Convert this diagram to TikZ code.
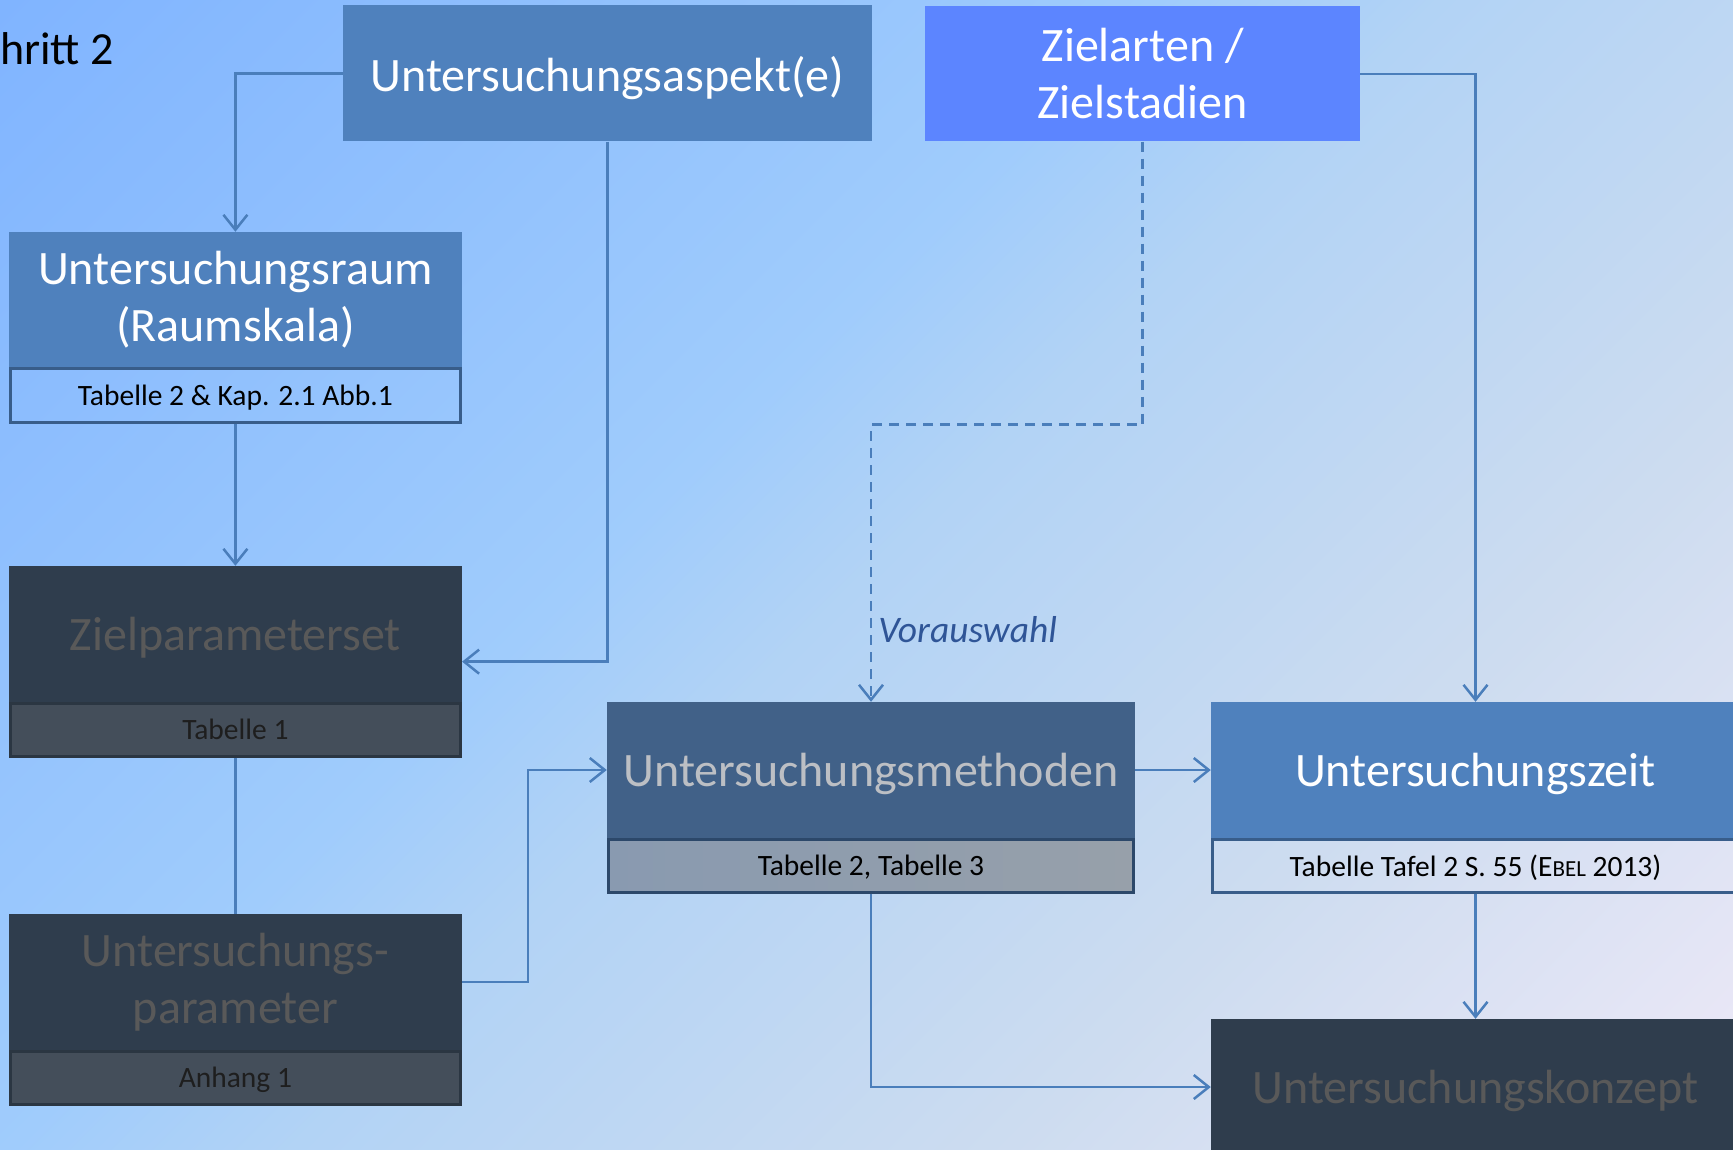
\documentclass[tikz,border=0pt]{standalone}
\usepackage{fontspec}
\setmainfont{Carlito}
\usetikzlibrary{arrows.meta,calc,shadings}
\definecolor{boxblue}{HTML}{4F81BD}
\definecolor{zielblue}{HTML}{5C85FF}
\definecolor{methblue}{HTML}{416188}
\definecolor{darkbox}{HTML}{2F3D4D}
\definecolor{darksub}{HTML}{444E5A}
\definecolor{darktext}{HTML}{595959}
\definecolor{methtext}{HTML}{BCBFC4}
\definecolor{linec}{HTML}{4A7EBB}
\definecolor{subborder}{HTML}{385D8A}
\definecolor{darkborder}{HTML}{2B3642}
\definecolor{vorc}{HTML}{2F5597}
\definecolor{subtext}{RGB}{30,30,30}
\definecolor{methsubl}{RGB}{137,154,176}
\definecolor{methsubr}{RGB}{151,160,170}
\definecolor{methborder}{RGB}{44,72,106}
\pgfdeclarehorizontalshading{bgshade}{100bp}{%
  rgb(0bp)=(0.502,0.706,1);
  rgb(14.6bp)=(0.502,0.706,1);
  rgb(43bp)=(0.627,0.800,0.988);
  rgb(50bp)=(0.698,0.827,0.961);
  rgb(67.7bp)=(0.804,0.863,0.941);
  rgb(85.4bp)=(0.933,0.914,0.969);
  rgb(100bp)=(0.933,0.914,0.969)}
\newcommand\bigf{\fontsize{48}{57}\selectfont}
\newcommand\smallf{\fontsize{29.5}{35}\selectfont}
\newcommand\titf{\fontsize{46}{54}\selectfont}
\begin{document}
\begin{tikzpicture}[x=1pt,y=-1pt,
  mainbox/.style={rectangle, inner sep=0pt, minimum height=136pt, font=\bigf, align=center},
  oneline/.style={text depth=0pt},
  subbox/.style={rectangle, inner sep=0pt, minimum height=53pt, line width=3pt, font=\smallf, align=center, text depth=0pt},
  conn/.style={draw=linec, line width=2.5pt, -{Straight Barb[length=15pt,width=24pt]}},
  plainconn/.style={draw=linec, line width=2.5pt},
  dashconn/.style={draw=linec, line width=2.5pt, dash pattern=on 10pt off 7pt, -{Straight Barb[length=15pt,width=24pt]}},
  lbl/.style={font=\fontsize{37.5}{44}\selectfont\itshape, text=vorc, inner sep=0pt}
]
\useasboundingbox (0,0) rectangle (1733,1150);
\clip (0,0) rectangle (1733,1150);
\shade[shading=bgshade, shading angle=-45] (0,0) rectangle (1733,1150);

% title
\node[anchor=base west, inner sep=0pt, font=\titf] (title) at (0,65) {hritt 2};

% top boxes
\node[mainbox, oneline, fill=boxblue, text=white, minimum width=529pt] (asp) at (607.3,73.5) {Untersuchungsaspekt(e)};
\node[mainbox, fill=zielblue, text=white, minimum width=435pt, minimum height=135pt] (ziel) at (1142.7,74) {Zielarten /\\Zielstadien};

% Untersuchungsraum
\node[mainbox, fill=boxblue, text=white, minimum width=453pt] (raum) at (235.4,300) {Untersuchungsraum\\(Raumskala)};
\node[subbox, draw=subborder, minimum width=450pt, text=black] (raumsub) at (235.4,395.5) {Tabelle 2 \& Kap. 2.1 Abb.1};

% Zielparameterset
\node[mainbox, oneline, fill=darkbox, text=darktext, minimum width=453pt] (zps) at (235.4,634) {Zielparameterset};
\node[subbox, fill=darksub, draw=darkborder, minimum width=450pt, text=subtext] (zpssub) at (235.4,729.5) {Tabelle 1};

% Untersuchungsparameter
\node[mainbox, fill=darkbox, text=darktext, minimum width=453pt] (upar) at (235.4,982) {Untersuchungs-\\parameter};
\node[subbox, fill=darksub, draw=darkborder, minimum width=450pt, text=subtext] (uparsub) at (235.4,1077.5) {Anhang 1};

% Untersuchungsmethoden
\node[mainbox, oneline, fill=methblue, text=methtext, minimum width=528pt] (meth) at (871,770) {Untersuchungsmethoden};
\node[subbox, left color=methsubl, right color=methsubr, draw=methborder, minimum width=525pt, text=black] (methsub) at (871,865.5) {Tabelle 2, Tabelle 3};

% Untersuchungszeit
\node[mainbox, oneline, fill=boxblue, text=white, minimum width=529pt] (zeit) at (1475.5,770) {Untersuchungszeit};
\node[subbox, draw=subborder, minimum width=526pt, text=black] (zeitsub) at (1475.5,865.5) {Tabelle Tafel 2 S. 55 (E{\fontsize{23}{27}\selectfont BEL} 2013)};

% Untersuchungskonzept
\node[mainbox, oneline, fill=darkbox, text=darktext, minimum width=529pt] (konz) at (1475.5,1087) {Untersuchungskonzept};

% connectors
\coordinate (zpsR) at ($(zps.north east)!0.5!(zps.east |- zpssub.south)$);
\draw[conn] (asp.west) -| (raum.north);
\draw[conn] (asp.south) |- (zpsR);
\draw[conn] (raumsub.south) -- (zps.north);
\draw[plainconn] (zpssub.south) -- (upar.north);
\draw[conn] (upar.east) -- ++(66,0) |- (meth.west);
\draw[dashconn] (ziel.south) -- ++(0,283) -| (meth.north)
  node[lbl, pos=0.87, anchor=west, xshift=6pt] (vor) {Vorauswahl};
\draw[conn] (ziel.east) -| (zeit.north);
\draw[conn] (meth.east) -- (zeit.west);
\draw[conn] (zeitsub.south) -- (konz.north);
\draw[conn] (methsub.south) |- (konz.west);
\end{tikzpicture}
\end{document}
